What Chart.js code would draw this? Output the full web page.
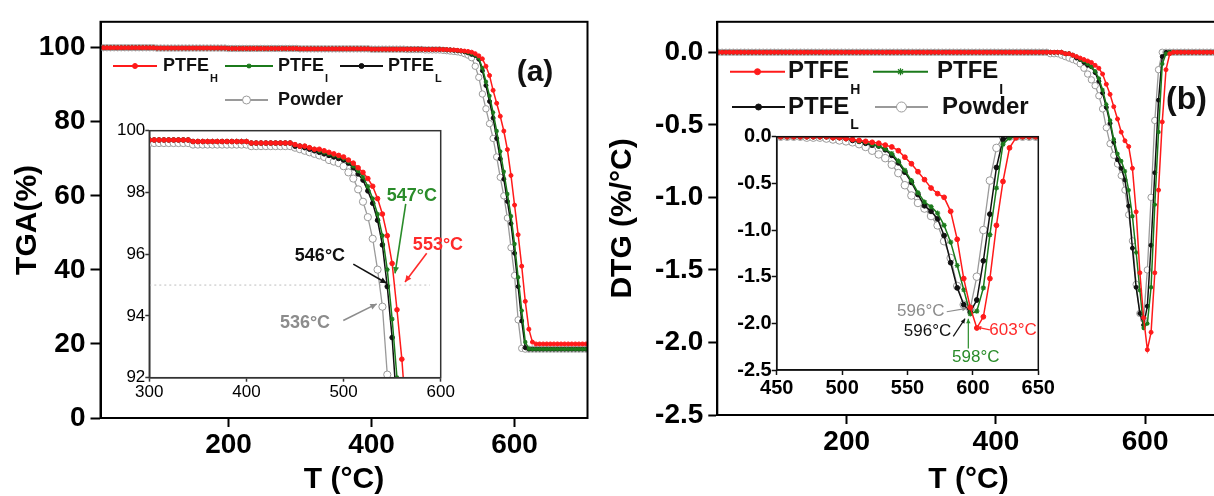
<!DOCTYPE html>
<html lang="en">
<head>
<meta charset="UTF-8">
<title>PTFE TGA / DTG</title>
<script src="https://cdn.jsdelivr.net/npm/chart.js"></script>
<style>
  body { margin: 0; width: 1214px; height: 496px; overflow: hidden; background: #fff; position: relative; }
  canvas { position: absolute; }
</style>
</head>
<body>
<canvas id="tgaMain" width="600" height="496" style="left:0;top:0"></canvas>
<canvas id="dtgMain" width="640" height="496" style="left:600px;top:0"></canvas>
<canvas id="tgaZoom" width="370" height="292" style="left:105px;top:118px"></canvas>
<canvas id="dtgZoom" width="335" height="275" style="left:722px;top:124px"></canvas>
<script>
// ---- TGA, main panel (a) ----
const tgaTemps = [
  25,30,35,40,45,50,55,60,65,70,75,80,85,90,95,
  100,105,110,115,120,125,130,135,140,145,150,155,160,165,170,175,180,185,190,195,
  200,205,210,215,220,225,230,235,240,245,250,255,260,265,270,275,280,285,290,295,
  300,305,310,315,320,325,330,335,340,345,350,355,360,365,370,375,380,385,390,395,
  400,405,410,415,420,425,430,435,440,445,450,455,460,465,470,475,480,485,490,495,
  500,505,510,515,520,525,530,535,540,545,550,555,560,565,570,575,580,585,590,595,
  600,605,610,615,620,625,630,635,640,645,650,655,660,665,670,675,680,685,690,695,700
];
const tgaH = [
  100,100,100,100,100,100,100,100,100,100,100,100,100,100,100,
  99.9,99.9,99.9,99.9,99.9,99.9,99.9,99.9,99.9,99.9,99.9,99.9,99.9,99.9,99.9,99.9,99.9,99.9,99.9,99.9,
  99.8,99.8,99.8,99.8,99.8,99.8,99.8,99.8,99.8,99.8,99.8,99.8,99.8,99.8,99.8,99.8,99.8,99.8,99.8,99.8,
  99.7,99.7,99.7,99.7,99.7,99.7,99.7,99.7,99.7,99.7,99.7,99.7,99.7,99.7,99.7,99.7,99.7,99.7,99.7,99.7,
  99.6,99.6,99.6,99.6,99.6,99.6,99.6,99.6,99.6,99.6,99.6,99.6,99.6,99.6,99.6,99.55,99.55,99.55,99.55,99.55,
  99.5,99.5,99.4,99.4,99.3,99.2,99.1,99.0,98.8,98.4,97.8,97.0,95.0,92.5,88.5,85,81.5,77.5,72.5,65.5,
  57.5,49.5,41,31.5,24,20.5,20,20,20,20,20,20,20,20,20,20,20,20,20,20,20
];
const tgaI = [
  100,100,100,100,100,100,100,100,100,100,100,100,100,100,100,
  99.9,99.9,99.9,99.9,99.9,99.9,99.9,99.9,99.9,99.9,99.9,99.9,99.9,99.9,99.9,99.9,99.9,99.9,99.9,99.9,
  99.8,99.8,99.8,99.8,99.8,99.8,99.8,99.8,99.8,99.8,99.8,99.8,99.8,99.8,99.8,99.8,99.8,99.8,99.8,99.8,
  99.7,99.7,99.7,99.7,99.7,99.7,99.7,99.7,99.7,99.7,99.7,99.7,99.7,99.7,99.7,99.7,99.7,99.7,99.7,99.7,
  99.6,99.6,99.6,99.6,99.6,99.6,99.6,99.6,99.6,99.6,99.6,99.6,99.6,99.6,99.6,99.55,99.55,99.55,99.55,99.55,
  99.5,99.45,99.4,99.35,99.25,99.15,99.0,98.7,98.4,98.0,97.2,94.5,90.8,87,82.5,77.5,72,66.5,60.5,54.5,
  47,38,29,20.5,18.7,18.6,18.6,18.6,18.6,18.6,18.6,18.6,18.6,18.6,18.6,18.6,18.6,18.6,18.6,18.6,18.6
];
const tgaL = [
  100,100,100,100,100,100,100,100,100,100,100,100,100,100,100,
  99.9,99.9,99.9,99.9,99.9,99.9,99.9,99.9,99.9,99.9,99.9,99.9,99.9,99.9,99.9,99.9,99.9,99.9,99.9,99.9,
  99.8,99.8,99.8,99.8,99.8,99.8,99.8,99.8,99.8,99.8,99.8,99.8,99.8,99.8,99.8,99.8,99.8,99.8,99.8,99.8,
  99.7,99.7,99.7,99.7,99.7,99.7,99.7,99.7,99.7,99.7,99.7,99.7,99.7,99.7,99.7,99.7,99.7,99.7,99.7,99.7,
  99.6,99.6,99.6,99.6,99.6,99.6,99.6,99.6,99.6,99.6,99.6,99.6,99.6,99.6,99.6,99.55,99.55,99.55,99.55,99.55,
  99.5,99.4,99.4,99.3,99.2,99.1,98.9,98.6,98.2,97.9,96.9,93.8,89.8,85.5,81,75.5,70,64.5,58.5,52.5,
  44.5,35.5,26.2,19.0,18.6,18.6,18.6,18.6,18.6,18.6,18.6,18.6,18.6,18.6,18.6,18.6,18.6,18.6,18.6,18.6,18.6
];
const tgaPowder = [
  100,100,100,100,100,100,100,100,100,100,100,100,100,100,100,
  99.9,99.9,99.9,99.9,99.9,99.9,99.9,99.9,99.9,99.9,99.9,99.9,99.9,99.9,99.9,99.9,99.9,99.9,99.9,99.9,
  99.8,99.8,99.8,99.8,99.8,99.8,99.8,99.8,99.8,99.8,99.8,99.8,99.8,99.8,99.8,99.8,99.8,99.8,99.8,99.8,
  99.7,99.7,99.7,99.7,99.7,99.7,99.7,99.7,99.7,99.7,99.7,99.7,99.7,99.7,99.7,99.7,99.7,99.7,99.7,99.7,
  99.6,99.6,99.6,99.6,99.6,99.6,99.6,99.6,99.6,99.6,99.5,99.5,99.5,99.5,99.5,99.4,99.4,99.4,99.4,99.4,
  99.3,99.2,99.1,99.0,98.9,98.7,98.4,98.0,97.3,95,92,87.5,83.5,79.5,75.5,70.5,65,60,54,46,
  38.5,26.5,18.8,18.6,18.6,18.6,18.6,18.6,18.6,18.6,18.6,18.6,18.6,18.6,18.6,18.6,18.6,18.6,18.6,18.6,18.6
];

// ---- TGA, inset of panel (a) ----
const zoomTemps = [
  300,305,310,315,320,325,330,335,340,345,350,355,360,365,370,375,380,385,390,395,
  400,405,410,415,420,425,430,435,440,445,450,455,460,465,470,475,480,485,490,495,
  500,505,510,515,520,525,530,535,540,545,550,555,560,565,570
];
const zoomH = [
  99.7,99.7,99.7,99.7,99.7,99.7,99.7,99.7,99.7,99.65,99.65,99.65,99.65,99.65,99.65,99.65,99.65,99.65,99.65,99.65,
  99.65,99.6,99.6,99.6,99.6,99.6,99.6,99.6,99.6,99.6,99.55,99.5,99.5,99.45,99.4,99.4,99.35,99.3,99.25,99.2,
  99.15,99.05,98.95,98.8,98.65,98.45,98.2,97.8,97.3,96.6,95.7,94.2,92.6,90.5,88
];
const zoomI = [
  99.7,99.7,99.7,99.7,99.7,99.7,99.7,99.7,99.7,99.65,99.65,99.65,99.65,99.65,99.65,99.65,99.65,99.65,99.65,99.65,
  99.65,99.6,99.6,99.6,99.6,99.6,99.6,99.6,99.6,99.6,99.55,99.5,99.5,99.45,99.4,99.35,99.3,99.25,99.2,99.15,
  99.1,99.0,98.85,98.7,98.5,98.2,97.8,97.3,96.6,95.5,93.9,92.0,90,88,86
];
const zoomL = [
  99.7,99.7,99.7,99.7,99.7,99.7,99.7,99.7,99.7,99.65,99.65,99.65,99.65,99.65,99.65,99.65,99.65,99.65,99.65,99.65,
  99.65,99.6,99.6,99.6,99.6,99.6,99.6,99.6,99.6,99.6,99.5,99.5,99.45,99.4,99.35,99.3,99.25,99.2,99.15,99.1,
  99.05,98.95,98.8,98.6,98.4,98.05,97.65,97.1,96.3,94.95,93.3,91.0,89,87,85
];
const zoomPowder = [
  99.6,99.6,99.6,99.6,99.6,99.6,99.6,99.6,99.6,99.55,99.55,99.55,99.55,99.55,99.55,99.55,99.55,99.55,99.55,99.55,
  99.55,99.5,99.5,99.5,99.5,99.5,99.5,99.5,99.5,99.5,99.45,99.4,99.35,99.3,99.25,99.2,99.15,99.05,99.0,98.95,
  98.85,98.65,98.45,98.1,97.7,97.2,96.5,95.5,94.3,92.1,89.5,87,85,83,81
];
// 5 % mass-loss guide line in the inset
const cutTemps = [300, 589];
const cutLevel = [95, 95];

// ---- DTG, panel (b) and its inset ----
const dtgTemps = [
  28,33,38,43,48,53,58,63,68,73,78,83,88,93,
  98,103,108,113,118,123,128,133,138,143,148,153,158,163,168,173,178,183,188,193,
  198,203,208,213,218,223,228,233,238,243,248,253,258,263,268,273,278,283,288,293,
  298,303,308,313,318,323,328,333,338,343,348,353,358,363,368,373,378,383,388,393,
  398,403,408,413,418,423,428,433,438,443,448,453,458,463,468,473,478,483,488,493,
  498,503,508,513,518,523,528,533,538,543,548,553,558,563,568,573,578,583,588,593,
  598,603,608,613,618,623,628,633,638,643,648,653,658,663,668,673,678,683,688,693,698,703
];
const dtgH = [
  0,0,0,0,0,0,0,0,0,0,0,0,0,0,
  0,0,0,0,0,0,0,0,0,0,0,0,0,0,0,0,0,0,0,0,
  0,0,0,0,0,0,0,0,0,0,0,0,0,0,0,0,0,0,0,0,
  0,0,0,0,0,0,0,0,0,0,0,0,0,0,0,0,0,0,0,0,
  0,0,0,0,0,0,0,0,0,0,0,0,0,0,0,0,0,0,0,-0.01,
  -0.01,-0.02,-0.03,-0.04,-0.05,-0.06,-0.07,-0.09,-0.11,-0.15,-0.22,-0.29,-0.375,-0.46,-0.55,-0.61,-0.65,-0.8,-1.1,-1.52,
  -1.83,-2.05,-1.93,-1.52,-0.95,-0.48,-0.12,-0.01,0,0,0,0,0,0,0,0,0,0,0,0,0,0
];
const dtgI = [
  0,0,0,0,0,0,0,0,0,0,0,0,0,0,
  0,0,0,0,0,0,0,0,0,0,0,0,0,0,0,0,0,0,0,0,
  0,0,0,0,0,0,0,0,0,0,0,0,0,0,0,0,0,0,0,0,
  0,0,0,0,0,0,0,0,0,0,0,0,0,0,0,0,0,0,0,0,
  0,0,0,0,0,0,0,0,0,0,0,0,0,0,0,0,0,0,0,-0.01,
  -0.01,-0.02,-0.03,-0.05,-0.06,-0.08,-0.1,-0.13,-0.18,-0.26,-0.36,-0.47,-0.6,-0.7,-0.75,-0.82,-0.95,-1.13,-1.38,-1.64,
  -1.9,-1.87,-1.62,-1.05,-0.55,-0.08,-0.01,0,0,0,0,0,0,0,0,0,0,0,0,0,0,0
];
const dtgL = [
  0,0,0,0,0,0,0,0,0,0,0,0,0,0,
  0,0,0,0,0,0,0,0,0,0,0,0,0,0,0,0,0,0,0,0,
  0,0,0,0,0,0,0,0,0,0,0,0,0,0,0,0,0,0,0,0,
  0,0,0,0,0,0,0,0,0,0,0,0,0,0,0,0,0,0,0,0,
  0,0,0,0,0,0,0,0,0,0,0,0,0,0,0,0,0,0,0,-0.01,
  -0.01,-0.02,-0.04,-0.05,-0.07,-0.09,-0.1,-0.14,-0.2,-0.28,-0.38,-0.49,-0.62,-0.74,-0.8,-0.88,-1.06,-1.35,-1.62,-1.8,
  -1.88,-1.75,-1.33,-0.83,-0.33,-0.03,0,0,0,0,0,0,0,0,0,0,0,0,0,0,0,0
];
const dtgPowder = [
  0,0,0,0,0,0,0,0,0,0,0,0,0,0,
  0,0,0,0,0,0,0,0,0,0,0,0,0,0,0,0,0,0,0,0,
  0,0,0,0,0,0,0,0,0,0,0,0,0,0,0,0,0,0,0,0,
  0,0,0,0,0,0,0,0,0,0,0,0,0,0,0,0,0,0,0,0,
  0,0,0,0,0,0,0,0,0,0,0,0,0,0,0,-0.01,-0.01,-0.01,-0.02,-0.03,
  -0.04,-0.05,-0.06,-0.08,-0.11,-0.15,-0.19,-0.23,-0.3,-0.39,-0.52,-0.63,-0.71,-0.77,-0.85,-0.95,-1.12,-1.3,-1.6,-1.8,
  -1.84,-1.5,-1.0,-0.47,-0.12,0,0,0,0,0,0,0,0,0,0,0,0,0,0,0,0,0
];

// ---- ticks ----
const tgaXTicks = [200, 400, 600];
const tgaYTicks = [0, 20, 40, 60, 80, 100];
const zoomAXTicks = [300, 400, 500, 600];
const zoomAYTicks = [92, 94, 96, 98, 100];
const dtgXTicks = [200, 400, 600];
const dtgYTicks = [-2.5, -2, -1.5, -1, -0.5, 0];
const zoomBXTicks = [450, 500, 550, 600, 650];

const FONT = "'Liberation Sans', Arial, sans-serif";
Chart.defaults.font.family = FONT;

const looks = {
  H: { color: '#ff1a1a', fill: '#ff1a1a', style: 'circle', line: 1.5, pl: 1 },
  I: { color: '#1b7a1b', fill: '#1b7a1b', style: 'star', line: 1.5, pl: 1.2 },
  L: { color: '#111111', fill: '#111111', style: 'circle', line: 1.5, pl: 1 },
  P: { color: '#9a9a9a', fill: '#ffffff', style: 'circle', line: 1.3, pl: 1 }
};

function series(temps, vals, key, r) {
  const s = looks[key];
  return {
    data: temps.map((t, i) => ({ x: t, y: vals[i] })),
    borderColor: s.color, backgroundColor: s.fill, borderWidth: s.line,
    pointStyle: s.style, pointRadius: key === 'P' ? r + 1.2 : r,
    pointBorderColor: s.color, pointBackgroundColor: s.fill, pointBorderWidth: s.pl,
    tension: 0
  };
}

function axis(o) {
  return {
    type: 'linear', min: o.min, max: o.max,
    afterBuildTicks: s => { s.ticks = o.ticks.map(v => ({ value: v })); },
    afterFit: s => { if (o.w != null) s.width = o.w; if (o.h != null) s.height = o.h; },
    grid: { drawOnChartArea: false, drawTicks: true, tickLength: o.tick, tickWidth: o.lw, tickColor: o.color },
    border: { display: true, color: o.color, width: o.lw },
    ticks: { autoSkip: false, maxRotation: 0, padding: o.pad, color: '#000', font: o.font, callback: o.fmt },
    title: o.title ? { display: true, text: o.title, color: '#000', font: o.titleFont, padding: o.titlePad } : { display: false }
  };
}

// box round the plot area (and white fill for the insets)
const frame = {
  id: 'frame',
  beforeDraw(chart, args, o) {
    if (!o.fill) return;
    const a = chart.chartArea, ctx = chart.ctx;
    ctx.save();
    ctx.fillStyle = o.fill;
    ctx.fillRect(a.left, a.top, a.right - a.left, a.bottom - a.top);
    ctx.restore();
  },
  afterDraw(chart, args, o) {
    const a = chart.chartArea, ctx = chart.ctx;
    ctx.save();
    ctx.strokeStyle = o.color || '#000';
    ctx.lineWidth = o.width || 2;
    ctx.strokeRect(a.left, a.top, a.right - a.left, a.bottom - a.top);
    ctx.restore();
  }
};

// temperature labels with arrows, placed in data coordinates
const notes = {
  id: 'notes',
  afterDraw(chart, args, o) {
    if (!o.items) return;
    const ctx = chart.ctx, sx = chart.scales.x, sy = chart.scales.y;
    const px = v => sx.getPixelForValue(v), py = v => sy.getPixelForValue(v);
    o.items.forEach(n => {
      ctx.save();
      ctx.fillStyle = n.color; ctx.strokeStyle = n.color;
      ctx.font = o.font; ctx.textAlign = 'center'; ctx.textBaseline = 'middle';
      ctx.fillText(n.text, px(n.x), py(n.y));
      const x0 = px(n.arrow[0]), y0 = py(n.arrow[1]), x1 = px(n.arrow[2]), y1 = py(n.arrow[3]);
      ctx.lineWidth = o.lineWidth;
      ctx.beginPath(); ctx.moveTo(x0, y0); ctx.lineTo(x1, y1); ctx.stroke();
      const ang = Math.atan2(y1 - y0, x1 - x0), h = o.head;
      ctx.beginPath(); ctx.moveTo(x1, y1);
      ctx.lineTo(x1 - h * Math.cos(ang - 0.45), y1 - h * Math.sin(ang - 0.45));
      ctx.lineTo(x1 - h * Math.cos(ang + 0.45), y1 - h * Math.sin(ang + 0.45));
      ctx.closePath(); ctx.fill();
      ctx.restore();
    });
  }
};

// hand-laid legend (two rows, subscripts) plus the panel tag
const keyBox = {
  id: 'keyBox',
  afterDraw(chart, args, o) {
    if (!o.items) return;
    const ctx = chart.ctx;
    o.items.forEach(it => {
      const s = looks[it.key];
      ctx.save();
      ctx.strokeStyle = s.color; ctx.lineWidth = s.line + 0.5;
      ctx.beginPath(); ctx.moveTo(it.x0, it.y); ctx.lineTo(it.x1, it.y); ctx.stroke();
      ctx.fillStyle = s.fill; ctx.lineWidth = s.pl;
      Chart.helpers.drawPoint(ctx, { pointStyle: s.style, radius: it.r, rotation: 0, borderWidth: s.pl }, (it.x0 + it.x1) / 2, it.y);
      ctx.fillStyle = '#111';
      ctx.font = o.font; ctx.textAlign = 'left'; ctx.textBaseline = 'middle';
      ctx.fillText(it.label, it.tx, it.y);
      if (it.sub) {
        const w = ctx.measureText(it.label).width;
        ctx.font = o.subFont;
        ctx.fillText(it.sub, it.tx + w + 1, it.y + o.subDy);
      }
      ctx.restore();
    });
    const t = o.tag;
    ctx.save();
    ctx.fillStyle = '#111'; ctx.font = t.font; ctx.textAlign = t.align; ctx.textBaseline = 'middle';
    ctx.fillText(t.text, t.x, t.y);
    ctx.restore();
  }
};

function build(id, datasets, scales, padding, extra) {
  return new Chart(document.getElementById(id), {
    type: 'line',
    data: { datasets },
    options: {
      responsive: false, animation: false, events: [],
      layout: { padding },
      scales,
      plugins: Object.assign({ legend: { display: false }, tooltip: { enabled: false } }, extra)
    },
    plugins: [frame, notes, keyBox]
  });
}

const bold = s => ({ family: FONT, size: s, weight: 'bold' });
const titleFont = { family: FONT, size: 30, weight: 'bold', lineHeight: 1.1 };

// panel (a)
build('tgaMain',
  [series(tgaTemps, tgaH, 'H', 2), series(tgaTemps, tgaI, 'I', 2.2), series(tgaTemps, tgaL, 'L', 2), series(tgaTemps, tgaPowder, 'P', 2)],
  {
    x: axis({ min: 21, max: 702, ticks: tgaXTicks, h: 78, tick: 9, lw: 2, color: '#000', pad: 1, font: bold(28), fmt: v => String(v),
      title: 'T (°C)', titleFont, titlePad: { top: 0, bottom: 0 } }),
    y: axis({ min: 0, max: 107, ticks: tgaYTicks, w: 100.5, tick: 10, lw: 2, color: '#000', pad: 5, font: bold(28), fmt: v => String(v),
      title: 'TGA(%)', titleFont, titlePad: { top: 11, bottom: 0 } })
  },
  { top: 18.3, right: 12.5, left: 0, bottom: 0 },
  {
    frame: { color: '#000', width: 2 },
    keyBox: {
      font: 'bold 18px ' + FONT, subFont: 'bold 11px ' + FONT, subDy: 13,
      items: [
        { key: 'H', x0: 113, x1: 157, y: 66, r: 2.5, tx: 163, label: 'PTFE', sub: 'H' },
        { key: 'I', x0: 225, x1: 273, y: 66, r: 2.5, tx: 278, label: 'PTFE', sub: 'I' },
        { key: 'L', x0: 340, x1: 383, y: 66, r: 2.5, tx: 388, label: 'PTFE', sub: 'L' },
        { key: 'P', x0: 225, x1: 268, y: 100, r: 4, tx: 278, label: 'Powder' }
      ],
      tag: { text: '(a)', x: 535, y: 73, font: 'bold 30px ' + FONT, align: 'center' }
    }
  });

// inset of (a)
build('tgaZoom',
  [series(zoomTemps, zoomH, 'H', 2.3), series(zoomTemps, zoomI, 'I', 2.4), series(zoomTemps, zoomL, 'L', 2.3), series(zoomTemps, zoomPowder, 'P', 2.4),
   { data: cutTemps.map((t, i) => ({ x: t, y: cutLevel[i] })), borderColor: '#bdbdbd', borderWidth: 1, borderDash: [2, 3], pointRadius: 0 }],
  {
    x: axis({ min: 300, max: 600, ticks: zoomAXTicks, h: 32.3, tick: 4, lw: 1.5, color: '#333', pad: 0, font: { family: FONT, size: 17 }, fmt: v => String(v) }),
    y: axis({ min: 92, max: 100, ticks: zoomAYTicks, w: 44.3, tick: 4, lw: 1.5, color: '#333', pad: 0, font: { family: FONT, size: 17 }, fmt: v => String(v) })
  },
  { top: 12.7, right: 34.3, left: 0, bottom: 0 },
  {
    frame: { color: '#333', width: 1.5, fill: '#fff' },
    notes: {
      font: 'bold 18px ' + FONT, lineWidth: 1.6, head: 7,
      items: [
        { text: '547°C', color: '#2a8c2a', x: 570.4, y: 97.88, arrow: [564, 97.63, 553, 95.38] },
        { text: '553°C', color: '#ff2a2a', x: 597.2, y: 96.3, arrow: [585.6, 96.03, 563.3, 95.1] },
        { text: '546°C', color: '#111', x: 475.7, y: 95.94, arrow: [510, 95.68, 544.4, 95.06] },
        { text: '536°C', color: '#8c8c8c', x: 460.3, y: 93.76, arrow: [499.7, 93.85, 534.1, 94.39] }
      ]
    }
  });

// panel (b)
build('dtgMain',
  [series(dtgTemps, dtgH, 'H', 2), series(dtgTemps, dtgI, 'I', 2.2), series(dtgTemps, dtgL, 'L', 2), series(dtgTemps, dtgPowder, 'P', 2)],
  {
    x: axis({ min: 26.5, max: 700, ticks: dtgXTicks, h: 81, tick: 9, lw: 2, color: '#000', pad: 1, font: bold(28), fmt: v => String(v),
      title: 'T (°C)', titleFont, titlePad: { top: 0, bottom: 0 } }),
    y: axis({ min: -2.5, max: 0.21, ticks: dtgYTicks, w: 117.3, tick: 9, lw: 2, color: '#000', pad: 5, font: bold(28), fmt: v => v.toFixed(1),
      title: 'DTG (%/°C)', titleFont, titlePad: { top: 6.5, bottom: 0 } })
  },
  { top: 19.3, right: 20.3, left: 0, bottom: 0 },
  {
    frame: { color: '#000', width: 2 },
    keyBox: {
      font: 'bold 24px ' + FONT, subFont: 'bold 14px ' + FONT, subDy: 18,
      items: [
        { key: 'H', x0: 130, x1: 185, y: 71.7, r: 3, tx: 188, label: 'PTFE', sub: 'H' },
        { key: 'I', x0: 273, x1: 328, y: 71.7, r: 3.5, tx: 337, label: 'PTFE', sub: 'I' },
        { key: 'L', x0: 132, x1: 185, y: 107, r: 3, tx: 188, label: 'PTFE', sub: 'L' },
        { key: 'P', x0: 275, x1: 328, y: 107, r: 5, tx: 342, label: 'Powder' }
      ],
      tag: { text: '(b)', x: 566, y: 100, font: 'bold 32px ' + FONT, align: 'left' }
    }
  });

// inset of (b)
build('dtgZoom',
  [series(dtgTemps, dtgH, 'H', 2.4), series(dtgTemps, dtgI, 'I', 2.6), series(dtgTemps, dtgL, 'L', 2.4), series(dtgTemps, dtgPowder, 'P', 2.6)],
  {
    x: axis({ min: 450, max: 650, ticks: zoomBXTicks, h: 29, tick: 5, lw: 1.5, color: '#111', pad: 1, font: bold(20), fmt: v => String(v) }),
    y: axis({ min: -2.5, max: 0, ticks: dtgYTicks, w: 54.7, tick: 5, lw: 1.5, color: '#111', pad: 0, font: bold(20), fmt: v => v.toFixed(1) })
  },
  { top: 12.7, right: 18.7, left: 0, bottom: 0 },
  {
    frame: { color: '#111', width: 1.5, fill: '#fff' },
    notes: {
      font: '17px ' + FONT, lineWidth: 1.2, head: 5,
      items: [
        { text: '596°C', color: '#8c8c8c', x: 560.2, y: -1.876, arrow: [580, -1.876, 595.3, -1.84] },
        { text: '596°C', color: '#111', x: 565.3, y: -2.09, arrow: [585, -2.14, 594, -1.95] },
        { text: '598°C', color: '#2a8c2a', x: 602.2, y: -2.36, arrow: [596.5, -2.27, 596.5, -1.95] },
        { text: '603°C', color: '#ff2a2a', x: 630.7, y: -2.07, arrow: [613, -2.07, 602.9, -2.04] }
      ]
    }
  });
</script>
</body>
</html>
